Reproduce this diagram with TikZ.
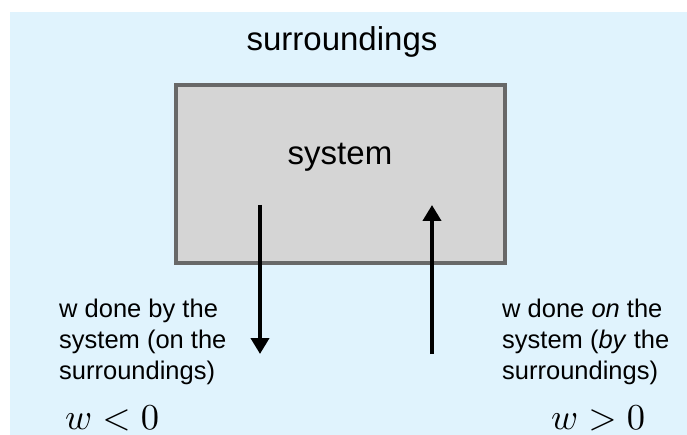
\documentclass[tikz,border=0pt]{standalone}
\usepackage{graphicx}
\usepackage{fontspec}
\setmainfont{Liberation Sans}
\usetikzlibrary{arrows.meta}
\definecolor{skyback}{RGB}{224,243,253}
\definecolor{sysfill}{RGB}{213,213,213}
\definecolor{sysedge}{RGB}{104,104,104}
\newcommand{\bigsign}[1]{\scalebox{3.65}{$#1$}}
\begin{document}
\begin{tikzpicture}[x=1pt,y=-1pt,
  title/.style={font=\fontsize{33}{40}\selectfont, inner sep=0pt, anchor=base},
  label/.style={font=\fontsize{25.5}{31}\selectfont, align=left, inner sep=0pt, anchor=base west},
  sign/.style={font=\normalsize, inner sep=0pt, anchor=base west},
  work/.style={line width=4.2pt, -{Triangle[width=18pt,length=16pt]}}]
  \useasboundingbox (0,0) rectangle (687,435);
  % surroundings background
  \fill[skyback] (10,12) rectangle (687,435);
  \node[title] (surr) at (342,51) {surroundings};
  % the system
  \node[draw=sysedge, fill=sysfill, line width=3.5pt, minimum width=329pt, minimum height=178pt, inner sep=0pt] (sys) at (340.5,174) {};
  \node[title] (systxt) at (340,165) {system};
  % work arrows
  \coordinate (outtop) at (260,205);
  \coordinate (outbot) at (260,354);
  \coordinate (intop) at (432,205);
  \coordinate (inbot) at (432,354);
  \draw[work] (outtop) -- (outbot);
  \draw[work] (inbot) -- (intop);
  % captions (anchored at the baseline of their last line)
  \node[label] (bylbl) at (59,379) {w done by the\\system (on the\\surroundings)};
  \node[label] (onlbl) at (502,379) {w done \textit{on} the\\system (\textit{by} the\\surroundings)};
  \node[sign] (neg) at (65,429) {\bigsign{w<0}};
  \node[sign] (pos) at (551,429) {\bigsign{w>0}};
\end{tikzpicture}
\end{document}
